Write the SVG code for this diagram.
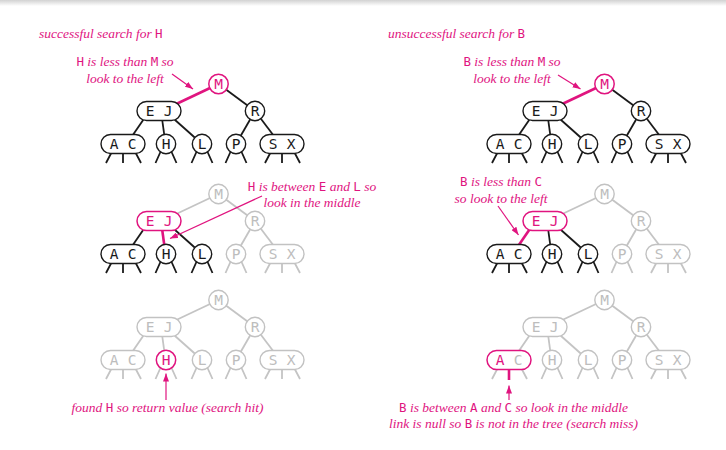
<svg xmlns="http://www.w3.org/2000/svg" width="726" height="450" viewBox="0 0 726 450">
<defs>
<linearGradient id="topband" x1="0" y1="0" x2="0" y2="1">
<stop offset="0" stop-color="#d2d2d2"/>
<stop offset="1" stop-color="#ffffff"/>
</linearGradient>
<marker id="ah" viewBox="0 0 8 6" refX="8" refY="3" markerWidth="8" markerHeight="6" markerUnits="userSpaceOnUse" orient="auto">
<path d="M0,0 L8,3 L0,6 z" fill="#e0147f"/>
</marker>
<style>
.nk{fill:#fff;stroke:#1a1a1a;stroke-width:1.4}
.ng{fill:#fff;stroke:#c2c2c2;stroke-width:1.4}
.np{fill:#fff;stroke:#e0147f;stroke-width:1.5}
.tk,.tg,.tp{font-family:"DejaVu Sans Mono","Liberation Mono",monospace;font-size:14.5px;text-anchor:middle}
.tk{fill:#1a1a1a}
.tg{fill:#bdbdbd}
.tp{fill:#e0147f}
.ek{stroke:#1a1a1a;stroke-width:1.8;fill:none}
.eg{stroke:#c4c4c4;stroke-width:1.8;fill:none}
.ep{stroke:#e0147f;stroke-width:2.6;fill:none}
.ar{stroke:#e0147f;stroke-width:1.2;fill:none;marker-end:url(#ah)}
.lab{font-family:"Liberation Serif",serif;font-style:italic;font-size:13.5px;fill:#e0147f}
.lab .key{font-family:"DejaVu Sans Mono","Liberation Mono",monospace;font-style:normal;font-size:12.5px}
.mid{text-anchor:middle}
</style>
</defs>
<rect x="0" y="0" width="726" height="6" fill="url(#topband)"/>

<g id="connectors">
<!-- Tree 1 left -->
<g transform="translate(0,0)">
<line class="ep" x1="218.5" y1="84" x2="172" y2="106"/>
<line class="ek" x1="218.5" y1="84" x2="255" y2="111"/>
<line class="ek" x1="148" y1="113" x2="128" y2="142"/>
<line class="ek" x1="161" y1="111" x2="165.5" y2="144"/>
<line class="ek" x1="165" y1="111" x2="202" y2="144"/>
<line class="ek" x1="255" y1="111" x2="236" y2="144"/>
<line class="ek" x1="255" y1="111" x2="280" y2="144"/>
<path class="ek" d="M116,144 L106,163 M123,144 L123,163 M131,144 L141,163 M164,144 L155.5,163 M168,144 L176.5,163 M200,144 L191.5,163 M204,144 L212.5,163 M234,144 L225.5,163 M238,144 L246.5,163 M275,144 L265,163 M282,144 L282,163 M290,144 L300,163"/>
</g>
<!-- Tree 1 right -->
<g transform="translate(386,0)">
<line class="ep" x1="218.5" y1="84" x2="172" y2="106"/>
<line class="ek" x1="218.5" y1="84" x2="255" y2="111"/>
<line class="ek" x1="148" y1="113" x2="128" y2="142"/>
<line class="ek" x1="161" y1="111" x2="165.5" y2="144"/>
<line class="ek" x1="165" y1="111" x2="202" y2="144"/>
<line class="ek" x1="255" y1="111" x2="236" y2="144"/>
<line class="ek" x1="255" y1="111" x2="280" y2="144"/>
<path class="ek" d="M116,144 L106,163 M123,144 L123,163 M131,144 L141,163 M164,144 L155.5,163 M168,144 L176.5,163 M200,144 L191.5,163 M204,144 L212.5,163 M234,144 L225.5,163 M238,144 L246.5,163 M275,144 L265,163 M282,144 L282,163 M290,144 L300,163"/>
</g>
<!-- Tree 2 left -->
<g transform="translate(0,110)">
<line class="eg" x1="218.5" y1="84" x2="172" y2="106"/>
<line class="eg" x1="218.5" y1="84" x2="255" y2="111"/>
<line class="eg" x1="255" y1="111" x2="236" y2="144"/>
<line class="eg" x1="255" y1="111" x2="280" y2="144"/>
<path class="eg" d="M234,144 L225.5,163 M238,144 L246.5,163 M275,144 L265,163 M282,144 L282,163 M290,144 L300,163"/>
<line class="ek" x1="148" y1="113" x2="128" y2="142"/>
<line class="ek" x1="165" y1="111" x2="202" y2="144"/>
<line class="ep" x1="161" y1="111" x2="165.5" y2="144"/>
<path class="ek" d="M116,144 L106,163 M123,144 L123,163 M131,144 L141,163 M164,144 L155.5,163 M168,144 L176.5,163 M200,144 L191.5,163 M204,144 L212.5,163"/>
</g>
<!-- Tree 2 right -->
<g transform="translate(386,110)">
<line class="eg" x1="218.5" y1="84" x2="172" y2="106"/>
<line class="eg" x1="218.5" y1="84" x2="255" y2="111"/>
<line class="eg" x1="255" y1="111" x2="236" y2="144"/>
<line class="eg" x1="255" y1="111" x2="280" y2="144"/>
<path class="eg" d="M234,144 L225.5,163 M238,144 L246.5,163 M275,144 L265,163 M282,144 L282,163 M290,144 L300,163"/>
<line class="ek" x1="161" y1="111" x2="165.5" y2="144"/>
<line class="ek" x1="165" y1="111" x2="202" y2="144"/>
<line class="ep" x1="148" y1="113" x2="128" y2="142"/>
<path class="ek" d="M116,144 L106,163 M123,144 L123,163 M131,144 L141,163 M164,144 L155.5,163 M168,144 L176.5,163 M200,144 L191.5,163 M204,144 L212.5,163"/>
</g>
<!-- Tree 3 left -->
<g transform="translate(0,216)">
<line class="eg" x1="218.5" y1="84" x2="172" y2="106"/>
<line class="eg" x1="218.5" y1="84" x2="255" y2="111"/>
<line class="eg" x1="148" y1="113" x2="128" y2="142"/>
<line class="eg" x1="161" y1="111" x2="165.5" y2="144"/>
<line class="eg" x1="165" y1="111" x2="202" y2="144"/>
<line class="eg" x1="255" y1="111" x2="236" y2="144"/>
<line class="eg" x1="255" y1="111" x2="280" y2="144"/>
<path class="eg" d="M116,144 L106,163 M123,144 L123,163 M131,144 L141,163 M164,144 L155.5,163 M168,144 L176.5,163 M200,144 L191.5,163 M204,144 L212.5,163 M234,144 L225.5,163 M238,144 L246.5,163 M275,144 L265,163 M282,144 L282,163 M290,144 L300,163"/>
</g>
<!-- Tree 3 right -->
<g transform="translate(386,216)">
<line class="eg" x1="218.5" y1="84" x2="172" y2="106"/>
<line class="eg" x1="218.5" y1="84" x2="255" y2="111"/>
<line class="eg" x1="148" y1="113" x2="128" y2="142"/>
<line class="eg" x1="161" y1="111" x2="165.5" y2="144"/>
<line class="eg" x1="165" y1="111" x2="202" y2="144"/>
<line class="eg" x1="255" y1="111" x2="236" y2="144"/>
<line class="eg" x1="255" y1="111" x2="280" y2="144"/>
<path class="eg" d="M116,144 L106,163 M131,144 L141,163 M164,144 L155.5,163 M168,144 L176.5,163 M200,144 L191.5,163 M204,144 L212.5,163 M234,144 L225.5,163 M238,144 L246.5,163 M275,144 L265,163 M282,144 L282,163 M290,144 L300,163"/>
<line class="ep" x1="123" y1="144" x2="123" y2="164"/>
</g>
<!-- annotation arrows -->
<line class="ar" x1="172" y1="74" x2="193" y2="89"/>
<line class="ar" x1="558" y1="75" x2="580.5" y2="89"/>
<line class="ar" x1="262" y1="196" x2="170" y2="238.5"/>
<line class="ar" x1="498" y1="206" x2="518.5" y2="235"/>
<line class="ar" x1="166" y1="400" x2="166" y2="373.5"/>
<line class="ar" x1="509" y1="400" x2="509" y2="385.5"/>
</g>

<!-- ===== Tree 1 left ===== -->
<g transform="translate(0,0)">
<g id="t1l-M"><circle class="np" cx="218.5" cy="84" r="9.7"/><text class="tp" x="218.5" y="89.3">M</text></g>
<g id="t1l-EJ"><rect class="nk" x="137" y="101.5" width="44" height="19" rx="9.5"/><text class="tk" x="150" y="116.3">E</text><text class="tk" x="168" y="116.3">J</text></g>
<g id="t1l-R"><circle class="nk" cx="255" cy="111" r="9.7"/><text class="tk" x="255" y="116.3">R</text></g>
<g id="t1l-AC"><rect class="nk" x="101" y="134.5" width="44" height="19" rx="9.5"/><text class="tk" x="114" y="149.3">A</text><text class="tk" x="132" y="149.3">C</text></g>
<g id="t1l-H"><circle class="nk" cx="166" cy="144" r="9.7"/><text class="tk" x="166" y="149.3">H</text></g>
<g id="t1l-L"><circle class="nk" cx="202" cy="144" r="9.7"/><text class="tk" x="202" y="149.3">L</text></g>
<g id="t1l-P"><circle class="nk" cx="236" cy="144" r="9.7"/><text class="tk" x="236" y="149.3">P</text></g>
<g id="t1l-SX"><rect class="nk" x="260" y="134.5" width="44" height="19" rx="9.5"/><text class="tk" x="273" y="149.3">S</text><text class="tk" x="291" y="149.3">X</text></g>
</g>

<!-- ===== Tree 1 right ===== -->
<g transform="translate(386,0)">
<g id="t1r-M"><circle class="np" cx="218.5" cy="84" r="9.7"/><text class="tp" x="218.5" y="89.3">M</text></g>
<g id="t1r-EJ"><rect class="nk" x="137" y="101.5" width="44" height="19" rx="9.5"/><text class="tk" x="150" y="116.3">E</text><text class="tk" x="168" y="116.3">J</text></g>
<g id="t1r-R"><circle class="nk" cx="255" cy="111" r="9.7"/><text class="tk" x="255" y="116.3">R</text></g>
<g id="t1r-AC"><rect class="nk" x="101" y="134.5" width="44" height="19" rx="9.5"/><text class="tk" x="114" y="149.3">A</text><text class="tk" x="132" y="149.3">C</text></g>
<g id="t1r-H"><circle class="nk" cx="166" cy="144" r="9.7"/><text class="tk" x="166" y="149.3">H</text></g>
<g id="t1r-L"><circle class="nk" cx="202" cy="144" r="9.7"/><text class="tk" x="202" y="149.3">L</text></g>
<g id="t1r-P"><circle class="nk" cx="236" cy="144" r="9.7"/><text class="tk" x="236" y="149.3">P</text></g>
<g id="t1r-SX"><rect class="nk" x="260" y="134.5" width="44" height="19" rx="9.5"/><text class="tk" x="273" y="149.3">S</text><text class="tk" x="291" y="149.3">X</text></g>
</g>

<!-- ===== Tree 2 left ===== -->
<g transform="translate(0,110)">
<g id="t2l-M"><circle class="ng" cx="218.5" cy="84" r="9.7"/><text class="tg" x="218.5" y="89.3">M</text></g>
<g id="t2l-EJ"><rect class="np" x="137" y="101.5" width="44" height="19" rx="9.5"/><text class="tp" x="150" y="116.3">E</text><text class="tp" x="168" y="116.3">J</text></g>
<g id="t2l-R"><circle class="ng" cx="255" cy="111" r="9.7"/><text class="tg" x="255" y="116.3">R</text></g>
<g id="t2l-AC"><rect class="nk" x="101" y="134.5" width="44" height="19" rx="9.5"/><text class="tk" x="114" y="149.3">A</text><text class="tk" x="132" y="149.3">C</text></g>
<g id="t2l-H"><circle class="nk" cx="166" cy="144" r="9.7"/><text class="tk" x="166" y="149.3">H</text></g>
<g id="t2l-L"><circle class="nk" cx="202" cy="144" r="9.7"/><text class="tk" x="202" y="149.3">L</text></g>
<g id="t2l-P"><circle class="ng" cx="236" cy="144" r="9.7"/><text class="tg" x="236" y="149.3">P</text></g>
<g id="t2l-SX"><rect class="ng" x="260" y="134.5" width="44" height="19" rx="9.5"/><text class="tg" x="273" y="149.3">S</text><text class="tg" x="291" y="149.3">X</text></g>
</g>

<!-- ===== Tree 2 right ===== -->
<g transform="translate(386,110)">
<g id="t2r-M"><circle class="ng" cx="218.5" cy="84" r="9.7"/><text class="tg" x="218.5" y="89.3">M</text></g>
<g id="t2r-EJ"><rect class="np" x="137" y="101.5" width="44" height="19" rx="9.5"/><text class="tp" x="150" y="116.3">E</text><text class="tp" x="168" y="116.3">J</text></g>
<g id="t2r-R"><circle class="ng" cx="255" cy="111" r="9.7"/><text class="tg" x="255" y="116.3">R</text></g>
<g id="t2r-AC"><rect class="nk" x="101" y="134.5" width="44" height="19" rx="9.5"/><text class="tk" x="114" y="149.3">A</text><text class="tk" x="132" y="149.3">C</text></g>
<g id="t2r-H"><circle class="nk" cx="166" cy="144" r="9.7"/><text class="tk" x="166" y="149.3">H</text></g>
<g id="t2r-L"><circle class="nk" cx="202" cy="144" r="9.7"/><text class="tk" x="202" y="149.3">L</text></g>
<g id="t2r-P"><circle class="ng" cx="236" cy="144" r="9.7"/><text class="tg" x="236" y="149.3">P</text></g>
<g id="t2r-SX"><rect class="ng" x="260" y="134.5" width="44" height="19" rx="9.5"/><text class="tg" x="273" y="149.3">S</text><text class="tg" x="291" y="149.3">X</text></g>
</g>

<!-- ===== Tree 3 left ===== -->
<g transform="translate(0,216)">
<g id="t3l-M"><circle class="ng" cx="218.5" cy="84" r="9.7"/><text class="tg" x="218.5" y="89.3">M</text></g>
<g id="t3l-EJ"><rect class="ng" x="137" y="101.5" width="44" height="19" rx="9.5"/><text class="tg" x="150" y="116.3">E</text><text class="tg" x="168" y="116.3">J</text></g>
<g id="t3l-R"><circle class="ng" cx="255" cy="111" r="9.7"/><text class="tg" x="255" y="116.3">R</text></g>
<g id="t3l-AC"><rect class="ng" x="101" y="134.5" width="44" height="19" rx="9.5"/><text class="tg" x="114" y="149.3">A</text><text class="tg" x="132" y="149.3">C</text></g>
<g id="t3l-H"><circle class="np" cx="166" cy="144" r="9.7"/><text class="tp" x="166" y="149.3">H</text></g>
<g id="t3l-L"><circle class="ng" cx="202" cy="144" r="9.7"/><text class="tg" x="202" y="149.3">L</text></g>
<g id="t3l-P"><circle class="ng" cx="236" cy="144" r="9.7"/><text class="tg" x="236" y="149.3">P</text></g>
<g id="t3l-SX"><rect class="ng" x="260" y="134.5" width="44" height="19" rx="9.5"/><text class="tg" x="273" y="149.3">S</text><text class="tg" x="291" y="149.3">X</text></g>
</g>

<!-- ===== Tree 3 right ===== -->
<g transform="translate(386,216)">
<g id="t3r-M"><circle class="ng" cx="218.5" cy="84" r="9.7"/><text class="tg" x="218.5" y="89.3">M</text></g>
<g id="t3r-EJ"><rect class="ng" x="137" y="101.5" width="44" height="19" rx="9.5"/><text class="tg" x="150" y="116.3">E</text><text class="tg" x="168" y="116.3">J</text></g>
<g id="t3r-R"><circle class="ng" cx="255" cy="111" r="9.7"/><text class="tg" x="255" y="116.3">R</text></g>
<g id="t3r-AC"><rect class="np" x="101" y="134.5" width="44" height="19" rx="9.5"/><text class="tp" x="114" y="149.3">A</text><text class="tg" x="132" y="149.3">C</text></g>
<g id="t3r-H"><circle class="ng" cx="166" cy="144" r="9.7"/><text class="tg" x="166" y="149.3">H</text></g>
<g id="t3r-L"><circle class="ng" cx="202" cy="144" r="9.7"/><text class="tg" x="202" y="149.3">L</text></g>
<g id="t3r-P"><circle class="ng" cx="236" cy="144" r="9.7"/><text class="tg" x="236" y="149.3">P</text></g>
<g id="t3r-SX"><rect class="ng" x="260" y="134.5" width="44" height="19" rx="9.5"/><text class="tg" x="273" y="149.3">S</text><text class="tg" x="291" y="149.3">X</text></g>
</g>

<g id="labels">
<text class="lab" x="39" y="38">successful search for <tspan class="key">H</tspan></text>
<text class="lab" x="388" y="38">unsuccessful search for <tspan class="key">B</tspan></text>

<text class="lab mid" x="125" y="66"><tspan class="key">H</tspan> is less than <tspan class="key">M</tspan> so</text>
<text class="lab mid" x="125" y="83">look to the left</text>

<text class="lab mid" x="512" y="66"><tspan class="key">B</tspan> is less than <tspan class="key">M</tspan> so</text>
<text class="lab mid" x="512" y="83">look to the left</text>

<text class="lab mid" x="312" y="190.5"><tspan class="key">H</tspan> is between <tspan class="key">E</tspan> and <tspan class="key">L</tspan> so</text>
<text class="lab mid" x="312" y="207">look in the middle</text>

<text class="lab mid" x="501" y="186"><tspan class="key">B</tspan> is less than <tspan class="key">C</tspan></text>
<text class="lab mid" x="501" y="203">so look to the left</text>

<text class="lab mid" x="167.5" y="412">found <tspan class="key">H</tspan> so return value (search hit)</text>

<text class="lab mid" x="513.5" y="411.5"><tspan class="key">B</tspan> is between <tspan class="key">A</tspan> and <tspan class="key">C</tspan> so look in the middle</text>
<text class="lab mid" x="513.5" y="428">link is null so <tspan class="key">B</tspan> is not in the tree (search miss)</text>
</g>
</svg>
